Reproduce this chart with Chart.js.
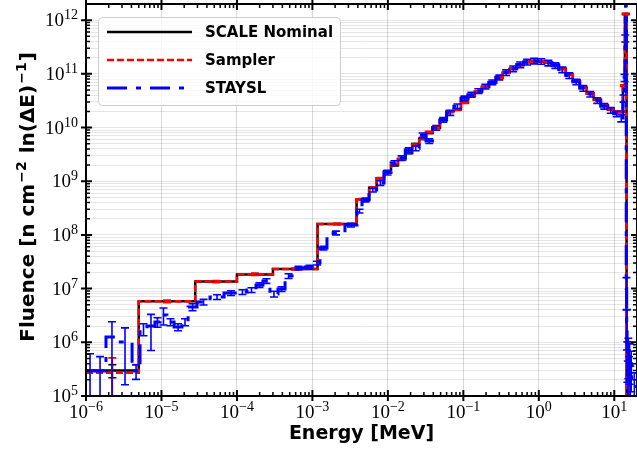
<!DOCTYPE html>
<html>
<head>
<meta charset="utf-8">
<script src="https://cdn.jsdelivr.net/npm/chart.js@4.4.1/dist/chart.umd.min.js"></script>
<style>
  body { margin: 0; background: #fff; }
  canvas { display: block; }
</style>
</head>
<body>
<canvas id="chart" width="637" height="455"></canvas>
<script>
// bin edges [MeV] and fluence per bin
const scaleEdges = [1e-6, 5e-6, 2.8e-5, 1e-4, 3e-4, 1.17e-3, 3.85e-3, 5.65e-3, 7.1e-3, 8.9e-3,
  1.1e-2, 1.36e-2, 1.7e-2, 2.1e-2, 2.6e-2, 3.2e-2, 3.9e-2, 4.9e-2, 6e-2, 7.5e-2,
  9.3e-2, 0.115, 0.142, 0.176, 0.218, 0.27, 0.333, 0.41, 0.51, 0.63,
  0.78, 0.97, 1.2, 1.49, 1.84, 2.28, 2.82, 3.49, 4.32, 5.35,
  6.62, 8.2, 9.84, 11.8, 13.0, 13.84, 14.55, 20];
const scaleFlux = [3.0e5, 5.8e6, 1.35e7, 1.83e7, 2.33e7, 1.6e8, 4.6e8, 7.6e8, 1.14e9, 1.54e9,
  1.99e9, 2.58e9, 3.34e9, 4.92e9, 6.1e9, 7.9e9, 9.8e9, 1.38e10, 2.04e10, 2.2e10,
  2.9e10, 3.9e10, 4.6e10, 5.7e10, 6.8e10, 8.5e10, 1.05e11, 1.24e11, 1.47e11, 1.67e11,
  1.74e11, 1.72e11, 1.62e11, 1.47e11, 1.24e11, 9.6e10, 7.4e10, 5.5e10, 4.3e10, 3.3e10,
  2.6e10, 2.2e10, 1.95e10, 2.0e10, 6.0e10, 1.3e12, 2e4];
const scaleErr = [0.27, 0.02, 0.02, 0.02, 0.02, 0.02, 0.02, 0.02, 0.02, 0.02,
  0.02, 0.02, 0.02, 0.02, 0.02, 0.02, 0.02, 0.02, 0.02, 0.02,
  0.02, 0.02, 0.02, 0.02, 0.02, 0.02, 0.02, 0.02, 0.02, 0.02,
  0.02, 0.02, 0.02, 0.02, 0.02, 0.02, 0.02, 0.02, 0.02, 0.02,
  0.02, 0.02, 0.02, 0.02, 0.02, 0.02, 0.02];

const samplerFlux = [2.7e5, 5.8e6, 1.35e7, 1.85e7, 2.33e7, 1.6e8, 4.6e8, 7.6e8, 1.14e9, 1.5e9,
  2.05e9, 2.6e9, 3.5e9, 4.8e9, 6.3e9, 8.3e9, 1.0e10, 1.45e10, 1.95e10, 2.15e10,
  2.9e10, 3.85e10, 4.7e10, 5.7e10, 6.9e10, 8.5e10, 1.05e11, 1.25e11, 1.47e11, 1.67e11,
  1.74e11, 1.72e11, 1.62e11, 1.46e11, 1.23e11, 9.7e10, 7.4e10, 5.6e10, 4.3e10, 3.3e10,
  2.6e10, 2.2e10, 1.95e10, 2.0e10, 6.0e10, 1.3e12, 2e4];
const samplerErr = [0.9, 0.06, 0.05, 0.05, 0.04, 0.03, 0.03, 0.03, 0.03, 0.03,
  0.03, 0.03, 0.03, 0.03, 0.03, 0.03, 0.03, 0.03, 0.03, 0.03,
  0.03, 0.03, 0.03, 0.03, 0.03, 0.03, 0.03, 0.03, 0.03, 0.03,
  0.03, 0.03, 0.03, 0.03, 0.03, 0.03, 0.03, 0.03, 0.03, 0.03,
  0.03, 0.03, 0.03, 0.03, 0.03, 0.03, 0.03];

const staysEdges = [1e-6, 1.28e-6, 1.84e-6, 2.65e-6, 4.08e-6, 5.2e-6, 6.43e-6, 8.2e-6, 9.57e-6, 1.18e-5,
  1.47e-5, 1.87e-5, 2.25e-5, 2.96e-5, 4.4e-5, 6.75e-5, 1.03e-4, 1.36e-4, 1.79e-4, 2.21e-4,
  2.74e-4, 3.5e-4, 4.34e-4, 5.37e-4, 7.98e-4, 1.05e-3, 1.26e-3, 1.56e-3, 2.7e-3, 3.9e-3,
  4.54e-3, 5.62e-3, 7.1e-3, 8.9e-3, 1.1e-2, 1.36e-2, 1.7e-2, 2.1e-2, 2.6e-2, 3.2e-2,
  3.9e-2, 4.9e-2, 6e-2, 7.5e-2, 9.3e-2, 0.115, 0.142, 0.176, 0.218, 0.27,
  0.333, 0.41, 0.51, 0.63, 0.78, 0.97, 1.2, 1.49, 1.84, 2.28,
  2.82, 3.49, 4.32, 5.35, 6.62, 8.2, 9.84, 11.8, 13.0, 13.5,
  13.84, 14.1, 14.4, 14.6, 14.8, 15.0, 15.2, 15.5, 15.8, 16.1,
  16.5, 17.0, 20];
const staysFlux = [2.92e5, 2.92e5, 1.26e6, 1.01e6, 2.92e5, 1.77e6, 2.01e6, 2.39e6, 3.23e6, 2.39e6,
  1.93e6, 2.39e6, 4.55e6, 5.64e6, 6.98e6, 8.29e6, 8.65e6, 9.42e6, 1.17e7, 1.39e7,
  7.95e6, 9.85e6, 1.72e7, 2.42e7, 2.53e7, 3.0e7, 5.71e7, 1.09e8, 1.53e8, 2.79e8,
  4.48e8, 6.87e8, 9.3e8, 1.45e9, 2.19e9, 2.7e9, 3.8e9, 4.1e9, 7.2e9, 5.6e9,
  9.9e9, 1.4e10, 1.87e10, 2.5e10, 3.5e10, 4.1e10, 4.8e10, 5.8e10, 7.0e10, 8.6e10,
  1.06e11, 1.25e11, 1.48e11, 1.66e11, 1.74e11, 1.71e11, 1.6e11, 1.44e11, 1.2e11, 9.3e10,
  7.1e10, 5.4e10, 4.2e10, 3.2e10, 2.5e10, 2.1e10, 1.8e10, 1.5e10, 3.5e10, 8.5e10,
  4.6e11, 3.5e12, 1.0e7, 2.4e6, 6e5, 2.5e5, 7e5, 3e5, 5.5e5, 2e5,
  4e5, 1.5e5];
const staysErr = [1.1, 0.85, 0.92, 0.84, 0.3, 0.25, 0.65, 0.2, 0.35, 0.15,
  0.15, 0.15, 0.15, 0.12, 0.1, 0.1, 0.1, 0.1, 0.1, 0.1,
  0.12, 0.1, 0.1, 0.08, 0.08, 0.08, 0.08, 0.08, 0.08, 0.08,
  0.08, 0.08, 0.1, 0.1, 0.1, 0.1, 0.1, 0.1, 0.1, 0.1,
  0.1, 0.1, 0.1, 0.1, 0.1, 0.1, 0.1, 0.1, 0.1, 0.1,
  0.12, 0.12, 0.12, 0.12, 0.12, 0.12, 0.12, 0.12, 0.12, 0.12,
  0.12, 0.12, 0.12, 0.12, 0.12, 0.12, 0.12, 0.15, 0.15, 0.15,
  0.15, 0.15, 0.6, 0.7, 0.7, 0.8, 0.7, 0.8, 0.7, 0.8,
  0.7, 0.8];

const seriesNames = ['SCALE Nominal', 'Sampler', 'STAYSL'];
const xTickExps = [-6, -5, -4, -3, -2, -1, 0, 1];
const yTickExps = [5, 6, 7, 8, 9, 10, 11, 12];
const yTitleParts = [['Fluence [n cm', 0], ['\u22122', 1], [' ln(\u0394E)', 0], ['\u22121', 1], [']', 0]];

const styles = [
  { color: '#000000', width: 2.5, dash: [] },
  { color: '#ff0000', width: 2.5, dash: [7, 3] },
  { color: '#0000ff', width: 3, dash: [20, 9, 5, 9] }
];
const errSets = [
  { edges: scaleEdges, vals: scaleFlux, errs: scaleErr },
  { edges: scaleEdges, vals: samplerFlux, errs: samplerErr },
  { edges: staysEdges, vals: staysFlux, errs: staysErr }
];

function steps(edges, vals) {
  const pts = vals.map((v, i) => ({ x: edges[i], y: v }));
  pts.push({ x: edges[edges.length - 1], y: vals[vals.length - 1] });
  return pts;
}

function withMinor(exps) {
  const out = [];
  exps.forEach(n => { for (let k = 1; k <= 9; k++) out.push(k * Math.pow(10, n)); });
  return out;
}
const isMajor = v => Math.abs(Math.log10(v) - Math.round(Math.log10(v))) < 1e-9;

const serif = '"Liberation Serif", "DejaVu Serif", serif';
const sans = '"DejaVu Sans", sans-serif';

function powLabel(ctx, n, x, y, align) {
  const base = '10', exp = n < 0 ? '\u2212' + Math.abs(n) : String(n);
  ctx.font = '19px ' + serif;
  const wb = ctx.measureText(base).width;
  ctx.font = '14px ' + serif;
  const we = ctx.measureText(exp).width;
  const start = align === 'center' ? x - (wb + we) / 2 : x - (wb + we);
  ctx.textAlign = 'left';
  ctx.textBaseline = 'alphabetic';
  ctx.font = '19px ' + serif;
  ctx.fillText(base, start, y);
  ctx.font = '14px ' + serif;
  ctx.fillText(exp, start + wb, y - 7);
}

function yTitle(ctx, cx, cy) {
  const big = 'bold 20px ' + sans, small = 'bold 14px ' + sans;
  let total = 0;
  yTitleParts.forEach(([t, sup]) => { ctx.font = sup ? small : big; total += ctx.measureText(t).width + (sup ? 2 : 0); });
  ctx.save();
  ctx.translate(cx, cy);
  ctx.rotate(-Math.PI / 2);
  ctx.fillStyle = '#000';
  ctx.textAlign = 'left';
  ctx.textBaseline = 'alphabetic';
  let pos = -total / 2;
  yTitleParts.forEach(([t, sup]) => {
    ctx.font = sup ? small : big;
    ctx.fillText(t, pos + (sup ? 1 : 0), sup ? -1 : 7);
    pos += ctx.measureText(t).width + (sup ? 2 : 0);
  });
  ctx.restore();
}

const frame = {
  id: 'frame',
  afterDatasetDraw(chart, args) {
    const eb = errSets[args.index];
    const { ctx, chartArea: a, scales: { x, y } } = chart;
    ctx.save();
    ctx.beginPath();
    ctx.rect(a.left, a.top, a.right - a.left, a.bottom - a.top);
    ctx.clip();
    ctx.strokeStyle = styles[args.index].color;
    ctx.lineWidth = 1.6;
    ctx.setLineDash([]);
    eb.vals.forEach((v, i) => {
      const px = x.getPixelForValue(Math.sqrt(eb.edges[i] * eb.edges[i + 1]));
      const hi = y.getPixelForValue(v * (1 + eb.errs[i]));
      const lo = y.getPixelForValue(Math.max(v * (1 - eb.errs[i]), 1));
      ctx.beginPath();
      ctx.moveTo(px, hi); ctx.lineTo(px, lo);
      ctx.moveTo(px - 4, hi); ctx.lineTo(px + 4, hi);
      ctx.moveTo(px - 4, lo); ctx.lineTo(px + 4, lo);
      ctx.stroke();
    });
    ctx.restore();
  },
  afterDraw(chart) {
    const { ctx, chartArea: a, scales: { x, y } } = chart;
    ctx.save();
    ctx.strokeStyle = '#000';
    ctx.setLineDash([]);
    // spines
    ctx.lineWidth = 2;
    ctx.strokeRect(a.left, a.top, a.right - a.left, a.bottom - a.top);
    // ticks
    x.ticks.forEach(t => {
      const px = x.getPixelForValue(t.value);
      const maj = isMajor(t.value);
      ctx.lineWidth = maj ? 2 : 1.5;
      ctx.beginPath();
      if (maj) {
        ctx.moveTo(px, a.bottom - 6); ctx.lineTo(px, a.bottom + 5);
        ctx.moveTo(px, a.top - 5); ctx.lineTo(px, a.top + 6);
      } else {
        ctx.moveTo(px, a.bottom - 4); ctx.lineTo(px, a.bottom);
        ctx.moveTo(px, a.top); ctx.lineTo(px, a.top + 4);
      }
      ctx.stroke();
    });
    y.ticks.forEach(t => {
      const py = y.getPixelForValue(t.value);
      const maj = isMajor(t.value);
      ctx.lineWidth = maj ? 2 : 1.5;
      ctx.beginPath();
      if (maj) {
        ctx.moveTo(a.left - 5, py); ctx.lineTo(a.left + 6, py);
        ctx.moveTo(a.right - 6, py); ctx.lineTo(a.right + 5, py);
      } else {
        ctx.moveTo(a.left, py); ctx.lineTo(a.left + 4, py);
        ctx.moveTo(a.right - 4, py); ctx.lineTo(a.right, py);
      }
      ctx.stroke();
    });
    // tick labels
    ctx.fillStyle = '#000';
    xTickExps.forEach(n => powLabel(ctx, n, x.getPixelForValue(Math.pow(10, n)), a.bottom + 22, 'center'));
    yTickExps.forEach(n => powLabel(ctx, n, a.left - 8, y.getPixelForValue(Math.pow(10, n)) + 6, 'right'));
    yTitle(ctx, 27, (a.top + a.bottom) / 2 - 3);
    // legend
    ctx.beginPath();
    ctx.roundRect(98.5, 17.5, 242, 88, 4);
    ctx.fillStyle = 'rgba(255,255,255,0.8)';
    ctx.fill();
    ctx.strokeStyle = '#cccccc';
    ctx.lineWidth = 1;
    ctx.stroke();
    seriesNames.forEach((name, i) => {
      const yy = 32 + i * 28;
      const s = styles[i];
      ctx.strokeStyle = s.color;
      ctx.lineWidth = s.width;
      ctx.setLineDash(s.dash);
      ctx.beginPath();
      ctx.moveTo(107, yy); ctx.lineTo(192, yy);
      ctx.stroke();
      ctx.setLineDash([]);
      ctx.fillStyle = '#000';
      ctx.font = 'bold 15px ' + sans;
      ctx.textAlign = 'left';
      ctx.textBaseline = 'middle';
      ctx.fillText(name, 205, yy + 1);
    });
    ctx.restore();
  }
};

new Chart(document.getElementById('chart'), {
  type: 'line',
  data: {
    datasets: [
      { label: seriesNames[0], data: steps(scaleEdges, scaleFlux) },
      { label: seriesNames[1], data: steps(scaleEdges, samplerFlux) },
      { label: seriesNames[2], data: steps(staysEdges, staysFlux) }
    ].map((d, i) => Object.assign(d, {
      order: 3 - i,
      stepped: true,
      borderColor: styles[i].color,
      borderWidth: styles[i].width,
      borderDash: styles[i].dash,
      pointRadius: 0,
      fill: false
    }))
  },
  options: {
    responsive: false,
    animation: false,
    layout: { padding: { top: 4, right: 0, left: 0, bottom: 0 } },
    plugins: { legend: { display: false }, tooltip: { enabled: false } },
    scales: {
      x: {
        type: 'logarithmic', min: 1e-6, max: 20,
        afterBuildTicks: s => { s.ticks = withMinor(xTickExps).filter(v => v <= 20).map(v => ({ value: v })); },
        afterFit: s => { s.height = 59; },
        ticks: { display: false },
        border: { display: false },
        grid: { drawTicks: false, lineWidth: 1, color: c => (c.tick && isMajor(c.tick.value)) ? 'rgba(0,0,0,0.15)' : 'rgba(0,0,0,0)' },
        title: { display: true, text: 'Energy [MeV]', color: '#000', font: { family: sans, size: 19, weight: 'bold' }, padding: { top: 0, bottom: 10 } }
      },
      y: {
        type: 'logarithmic', min: 1e5, max: 2e12,
        afterBuildTicks: s => { s.ticks = withMinor(yTickExps).filter(v => v <= 2e12).map(v => ({ value: v })); },
        afterFit: s => { s.width = 86; },
        ticks: { display: false },
        border: { display: false },
        grid: { drawTicks: false, lineWidth: 1, color: 'rgba(0,0,0,0.1)' },
        title: { display: false }
      }
    }
  },
  plugins: [frame]
});
</script>
</body>
</html>
